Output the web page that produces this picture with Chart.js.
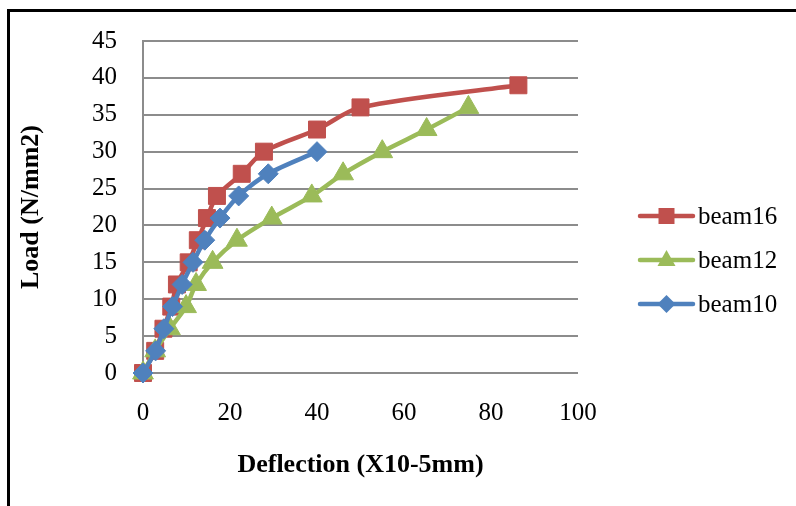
<!DOCTYPE html>
<html>
<head>
<meta charset="utf-8">
<script src="https://cdn.jsdelivr.net/npm/chart.js@4/dist/chart.umd.min.js"></script>
<style>
  html, body { margin: 0; padding: 0; background: #fff; }
  #wrap { position: relative; width: 796px; height: 506px; }
  #frame { position: absolute; left: 7px; top: 9px; right: 0; bottom: 0;
           border-left: 3px solid #000; border-top: 3px solid #000; pointer-events: none; }
</style>
</head>
<body>
<div id="wrap">
  <canvas id="c" width="796" height="506"></canvas>
  <div id="frame"></div>
</div>
<script>
/* ── DATA ─────────────────────────────── */
const beam16Defl = [0, 2.8, 4.7, 6.5, 7.8, 10.5, 12.6, 14.7, 17, 22.7, 27.8, 40, 50, 86.3];
const beam16Load = [0, 3, 6, 9, 12, 15, 18, 21, 24, 27, 30, 33, 36, 39];

const beam12Defl = [0, 2.8, 6.2, 9.9, 12.2, 16, 21.6, 29.6, 38.8, 46, 55, 65.2, 74.8];
const beam12Load = [0, 3, 6, 9, 12, 15, 18, 21, 24, 27, 30, 33, 36];

const beam10Defl = [0, 2.9, 4.8, 6.8, 9, 11.5, 14.2, 17.7, 22, 28.8, 40];
const beam10Load = [0, 3, 6, 9, 12, 15, 18, 21, 24, 27, 30];

const seriesNames = ['beam16', 'beam12', 'beam10'];
const xTicks = [0, 20, 40, 60, 80, 100];
const yTicks = [0, 5, 10, 15, 20, 25, 30, 35, 40, 45];

const RED = '#C0504D', GREEN = '#9BBB59', BLUE = '#4F81BD';
const GRID = '#8c8c8c';
const FONT = "'Liberation Serif', 'Times New Roman', serif";

const toPts = (xs, ys) => xs.map((x, i) => ({ x: x, y: ys[i] }));

// order: lower number is painted on top (Excel paints later series on top)
function ds(label, data, color, style, radius, order) {
  return {
    label, data, order,
    borderColor: color, backgroundColor: color,
    pointBackgroundColor: color, pointBorderColor: color,
    borderWidth: 4.5, pointStyle: style, pointRadius: radius, pointBorderWidth: 1,
    tension: 0.3, fill: false, clip: false
  };
}

/* ── CUSTOM LEGEND (line + marker) ────── */
const legendPlugin = {
  id: 'excelLegend',
  afterDraw(chart) {
    const ctx = chart.ctx;
    const rows = [216, 260, 304];
    chart.data.datasets.forEach((d, i) => {
      const y = rows[i], x0 = 640, x1 = 693, cx = (x0 + x1) / 2;
      ctx.save();
      ctx.strokeStyle = d.borderColor;
      ctx.lineWidth = 4.5;
      ctx.lineCap = 'round';
      ctx.beginPath(); ctx.moveTo(x0, y); ctx.lineTo(x1, y); ctx.stroke();
      ctx.fillStyle = d.borderColor;
      ctx.beginPath();
      if (d.pointStyle === 'rect') {
        ctx.rect(cx - 8, y - 8, 16, 16);
      } else if (d.pointStyle === 'triangle') {
        ctx.moveTo(cx, y - 10); ctx.lineTo(cx + 9, y + 6); ctx.lineTo(cx - 9, y + 6); ctx.closePath();
      } else {
        ctx.moveTo(cx, y - 9); ctx.lineTo(cx + 9, y); ctx.lineTo(cx, y + 9); ctx.lineTo(cx - 9, y); ctx.closePath();
      }
      ctx.fill();
      ctx.fillStyle = '#000';
      ctx.font = '25px ' + FONT;
      ctx.textBaseline = 'middle';
      ctx.fillText(d.label, 698, y + 1);
      ctx.restore();
    });
  }
};

new Chart(document.getElementById('c'), {
  type: 'line',
  data: {
    datasets: [
      ds(seriesNames[0], toPts(beam16Defl, beam16Load), RED, 'rect', 12, 3),
      ds(seriesNames[1], toPts(beam12Defl, beam12Load), GREEN, 'triangle', 12, 2),
      ds(seriesNames[2], toPts(beam10Defl, beam10Load), BLUE, 'rectRot', 10, 1)
    ]
  },
  options: {
    responsive: false,
    animation: false,
    layout: { padding: { left: 0, top: 39, right: 218, bottom: 0 } },
    plugins: { legend: { display: false }, tooltip: { enabled: false } },
    scales: {
      x: {
        type: 'linear', min: 0, max: 100,
        afterBuildTicks: s => { s.ticks = xTicks.map(v => ({ value: v })); },
        afterFit: s => { s.height = 133; },
        grid: { display: false, drawTicks: false },
        border: { display: false },
        ticks: { color: '#000', padding: 25, font: { family: FONT, size: 25 } },
        title: { display: true, text: 'Deflection (X10-5mm)', color: '#000',
                 padding: { top: 0, bottom: 25 }, font: { family: FONT, size: 26, weight: 'bold' } }
      },
      y: {
        min: 0, max: 45,
        afterBuildTicks: s => { s.ticks = yTicks.map(v => ({ value: v })); },
        afterFit: s => { s.width = 143; },
        grid: { color: GRID, lineWidth: 2, drawTicks: false },
        border: { display: true, color: GRID, width: 2 },
        ticks: { color: '#000', padding: 26, font: { family: FONT, size: 25 } },
        title: { display: true, text: 'Load (N/mm2)', color: '#000',
                 padding: { top: 16, bottom: 0 }, font: { family: FONT, size: 26, weight: 'bold' } }
      }
    }
  },
  plugins: [legendPlugin]
});
</script>
</body>
</html>
